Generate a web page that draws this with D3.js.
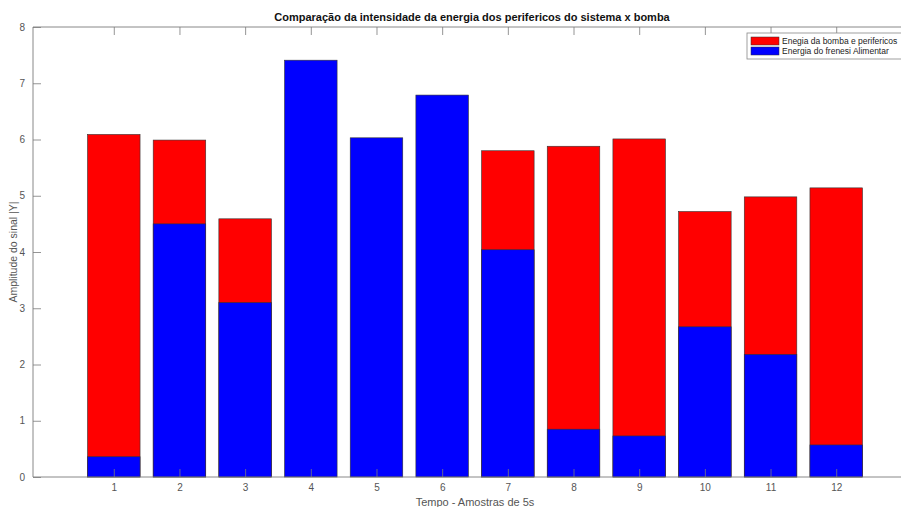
<!DOCTYPE html>
<html>
<head>
<meta charset="utf-8">
<script src="https://cdn.jsdelivr.net/npm/d3@7"></script>
<style>
  html, body { margin: 0; padding: 0; background: #ffffff; }
  svg { display: block; font-family: "Liberation Sans", Arial, sans-serif; }
</style>
</head>
<body>
<svg id="chart" width="901" height="507"></svg>
<script>
// Samples (5 s each) and the two energy series
const samples = [1, 2, 3, 4, 5, 6, 7, 8, 9, 10, 11, 12];
const bombaPerifericos = [6.09, 5.99, 4.59, 0, 0, 0, 5.80, 5.88, 6.01, 4.72, 4.98, 5.14];
const freneseAlimentar = [0.36, 4.50, 3.10, 7.41, 6.03, 6.79, 4.04, 0.85, 0.73, 2.67, 2.18, 0.57];
const yTicks = [0, 1, 2, 3, 4, 5, 6, 7, 8];

const titleText = "Comparação da intensidade da energia dos perifericos do sistema x bomba";
const xLabel = "Tempo - Amostras de 5s";
const yLabel = "Amplitude do sinal |Y|";
const legendLabels = ["Enegia da bomba e perifericos", "Energia do frenesi Alimentar"];
const colors = ["#ff0000", "#0000ff"];

const svg = d3.select("#chart");
const box = { left: 33, right: 917, top: 27, bottom: 477 };
const axisColor = "#7a7a7a", textColor = "#555";
const narrow = "'Liberation Sans Narrow', 'Liberation Sans', Arial, sans-serif";

const x = d3.scaleLinear().domain([-0.23, 13.23]).range([box.left, box.right]);
const y = d3.scaleLinear().domain([0, 8]).range([box.bottom, box.top]);
const barW = x(1.8) - x(1);

// bars: totals first, feeding energy overlaid from zero
const series = [bombaPerifericos, freneseAlimentar];
series.forEach((vals, si) => {
  svg.append("g")
    .selectAll("rect")
    .data(samples.map((s, i) => ({ s, v: vals[i] })).filter(d => d.v > 0))
    .join("rect")
    .attr("x", d => x(d.s) - barW / 2)
    .attr("y", d => y(d.v))
    .attr("width", barW)
    .attr("height", d => y(0) - y(d.v))
    .attr("fill", colors[si])
    .attr("stroke", "#333")
    .attr("stroke-width", 0.6);
});

// axes box with inward ticks
const tickLen = 8;
const xAxisB = d3.axisBottom(x).tickValues(samples).tickSize(-tickLen).tickPadding(7).tickFormat(d3.format("d"));
const xAxisT = d3.axisTop(x).tickValues(samples).tickSize(-tickLen).tickFormat("");
const yAxisL = d3.axisLeft(y).tickValues(yTicks).tickSize(-tickLen).tickPadding(8).tickFormat(d3.format("d"));

function style(g) {
  g.select(".domain").remove();
  g.selectAll(".tick line").attr("stroke", axisColor).attr("stroke-width", 0.8);
  g.selectAll(".tick text").attr("fill", textColor).attr("font-size", 10)
    .attr("font-family", narrow);
}
svg.append("g").attr("transform", `translate(0,${box.bottom})`).call(xAxisB).call(style);
svg.append("g").attr("transform", `translate(0,${box.top})`).call(xAxisT).call(style);
svg.append("g").attr("transform", `translate(${box.left},0)`).call(yAxisL).call(style);

svg.append("path")
  .attr("d", `M${box.left},${box.top}H${box.right}M${box.left},${box.top}V${box.bottom}H${box.right}`)
  .attr("fill", "none").attr("stroke", axisColor).attr("stroke-width", 0.9);

// title and axis labels
svg.append("text")
  .attr("x", (box.left + box.right) / 2 - 3).attr("y", 21)
  .attr("text-anchor", "middle").attr("font-size", 11).attr("font-weight", "bold")
  .attr("fill", "#111").text(titleText);

svg.append("text")
  .attr("x", (box.left + box.right) / 2).attr("y", 506)
  .attr("text-anchor", "middle").attr("font-size", 11)
  .attr("font-family", narrow)
  .attr("fill", textColor).text(xLabel);

svg.append("text")
  .attr("transform", `translate(17,${(box.top + box.bottom) / 2}) rotate(-90)`)
  .attr("text-anchor", "middle").attr("font-size", 10.5)
  .attr("font-family", narrow)
  .attr("fill", textColor).text(yLabel);

// legend
const lg = svg.append("g").attr("transform", "translate(747,33)");
lg.append("rect").attr("width", 170).attr("height", 26)
  .attr("fill", "#fff").attr("stroke", "#888").attr("stroke-width", 0.8);
legendLabels.forEach((lab, i) => {
  lg.append("rect").attr("x", 4).attr("y", 4 + i * 10).attr("width", 28).attr("height", 8)
    .attr("fill", colors[i]).attr("stroke", "#333").attr("stroke-width", 0.5);
  lg.append("text").attr("x", 35).attr("y", 11 + i * 10)
    .attr("font-size", 8.5).attr("fill", "#222").text(lab);
});
</script>
</body>
</html>
